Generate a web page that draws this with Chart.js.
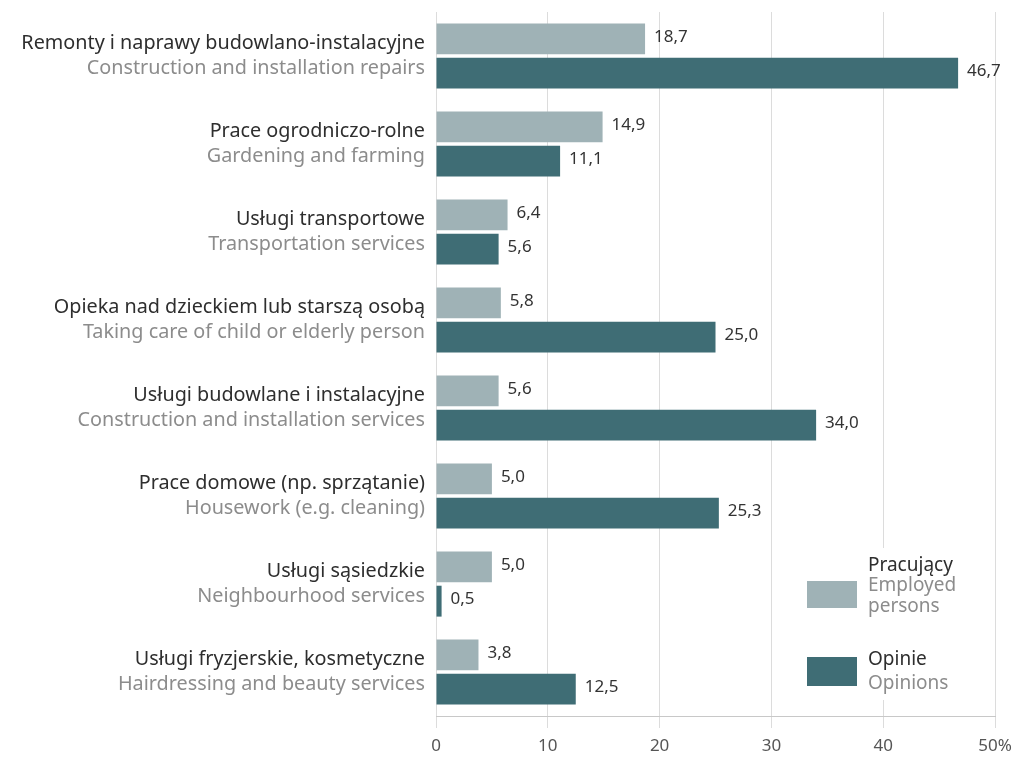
<!DOCTYPE html>
<html>
<head>
<meta charset="utf-8">
<script src="https://cdn.jsdelivr.net/npm/chart.js@4.4.1/dist/chart.umd.min.js"></script>
<style>
  html, body { margin: 0; padding: 0; background: #fff; }
  #wrap { width: 1026px; height: 761px; position: relative; }
</style>
</head>
<body>
<div id="wrap"><canvas id="myChart"></canvas></div>
<script>
const labels_pl = ['Remonty i naprawy budowlano-instalacyjne', 'Prace ogrodniczo-rolne', 'Usługi transportowe', 'Opieka nad dzieckiem lub starszą osobą', 'Usługi budowlane i instalacyjne', 'Prace domowe (np. sprzątanie)', 'Usługi sąsiedzkie', 'Usługi fryzjerskie, kosmetyczne'];
const labels_en = ['Construction and installation repairs', 'Gardening and farming', 'Transportation services', 'Taking care of child or elderly person', 'Construction and installation services', 'Housework (e.g. cleaning)', 'Neighbourhood services', 'Hairdressing and beauty services'];
const employed = [18.7, 14.9, 6.4, 5.8, 5.6, 5.0, 5.0, 3.8];
const opinions = [46.7, 11.1, 5.6, 25.0, 34.0, 25.3, 0.5, 12.5];
const x_ticks = ['0', '10', '20', '30', '40', '50%'];

const FONT = '"Noto Sans", sans-serif';
const light = '#9fb2b6';
const dark = '#3f6d75';

const fmt = (v) => v.toFixed(1).replace('.', ',');

// category labels, drawn in two colours
const catLabels = {
  id: 'catLabels',
  afterDraw(chart) {
    const ctx = chart.ctx;
    const y = chart.scales.y;
    ctx.save();
    ctx.textAlign = 'right';
    ctx.textBaseline = 'middle';
    ctx.font = '19.8px ' + FONT;
    labels_pl.forEach((l, i) => {
      const cy = y.getPixelForValue(i);
      ctx.fillStyle = '#2e2e2e';
      ctx.fillText(l, 425, cy - 13);
      ctx.fillStyle = '#8c8c8c';
      ctx.fillText(labels_en[i], 425, cy + 12);
    });
    ctx.restore();
  }
};

// value labels next to bars
const valueLabels = {
  id: 'valueLabels',
  afterDatasetsDraw(chart) {
    const ctx = chart.ctx;
    ctx.save();
    ctx.font = '17px ' + FONT;
    ctx.fillStyle = '#333';
    ctx.textBaseline = 'middle';
    chart.data.datasets.forEach((ds, di) => {
      chart.getDatasetMeta(di).data.forEach((bar, i) => {
        ctx.fillText(fmt(ds.data[i]), bar.x + 9, bar.y - 2);
      });
    });
    ctx.restore();
  }
};

// legend box in the lower right
const legendBox = {
  id: 'legendBox',
  afterDraw(chart) {
    const ctx = chart.ctx;
    ctx.save();
    ctx.fillStyle = '#fff';
    ctx.fillRect(800, 548, 150, 152);
    ctx.fillStyle = light;
    ctx.fillRect(807, 581, 50, 27);
    ctx.fillStyle = dark;
    ctx.fillRect(807, 657, 50, 29);
    ctx.textAlign = 'left';
    ctx.textBaseline = 'middle';
    ctx.font = '19px ' + FONT;
    ctx.fillStyle = '#2e2e2e';
    ctx.fillText('Pracujący', 868, 566);
    ctx.fillText('Opinie', 868, 660);
    ctx.fillStyle = '#8c8c8c';
    ctx.fillText('Employed', 868, 586);
    ctx.fillText('persons', 868, 607);
    ctx.fillText('Opinions', 868, 684);
    ctx.restore();
  }
};

const ctx = document.getElementById('myChart').getContext('2d');
const myChart = new Chart(ctx, {
  type: 'bar',
  data: {
    labels: labels_pl,
    datasets: [
      { label: 'Pracujący', data: employed, backgroundColor: light },
      { label: 'Opinie', data: opinions, backgroundColor: dark }
    ]
  },
  options: {
    indexAxis: 'y',
    responsive: true,
    maintainAspectRatio: false,
    animation: false,
    categoryPercentage: 0.78,
    barPercentage: 0.9,
    layout: { padding: { left: 10, right: 31, top: 12, bottom: 5 } },
    plugins: { legend: { display: false }, tooltip: { enabled: false } },
    scales: {
      y: {
        ticks: { display: false },
        grid: { display: false },
        border: { display: false },
        afterFit: (s) => { s.width = 426; }
      },
      x: {
        min: 0,
        max: 50,
        ticks: {
          stepSize: 10,
          color: '#555',
          padding: 8,
          font: { family: FONT, size: 17 },
          callback: (v, i) => x_ticks[i]
        },
        grid: { color: '#dcdcdc', tickLength: 12 },
        border: { color: '#c8c8c8' },
        afterFit: (s) => { s.height = 40; }
      }
    }
  },
  plugins: [catLabels, valueLabels, legendBox]
});
</script>
</body>
</html>
